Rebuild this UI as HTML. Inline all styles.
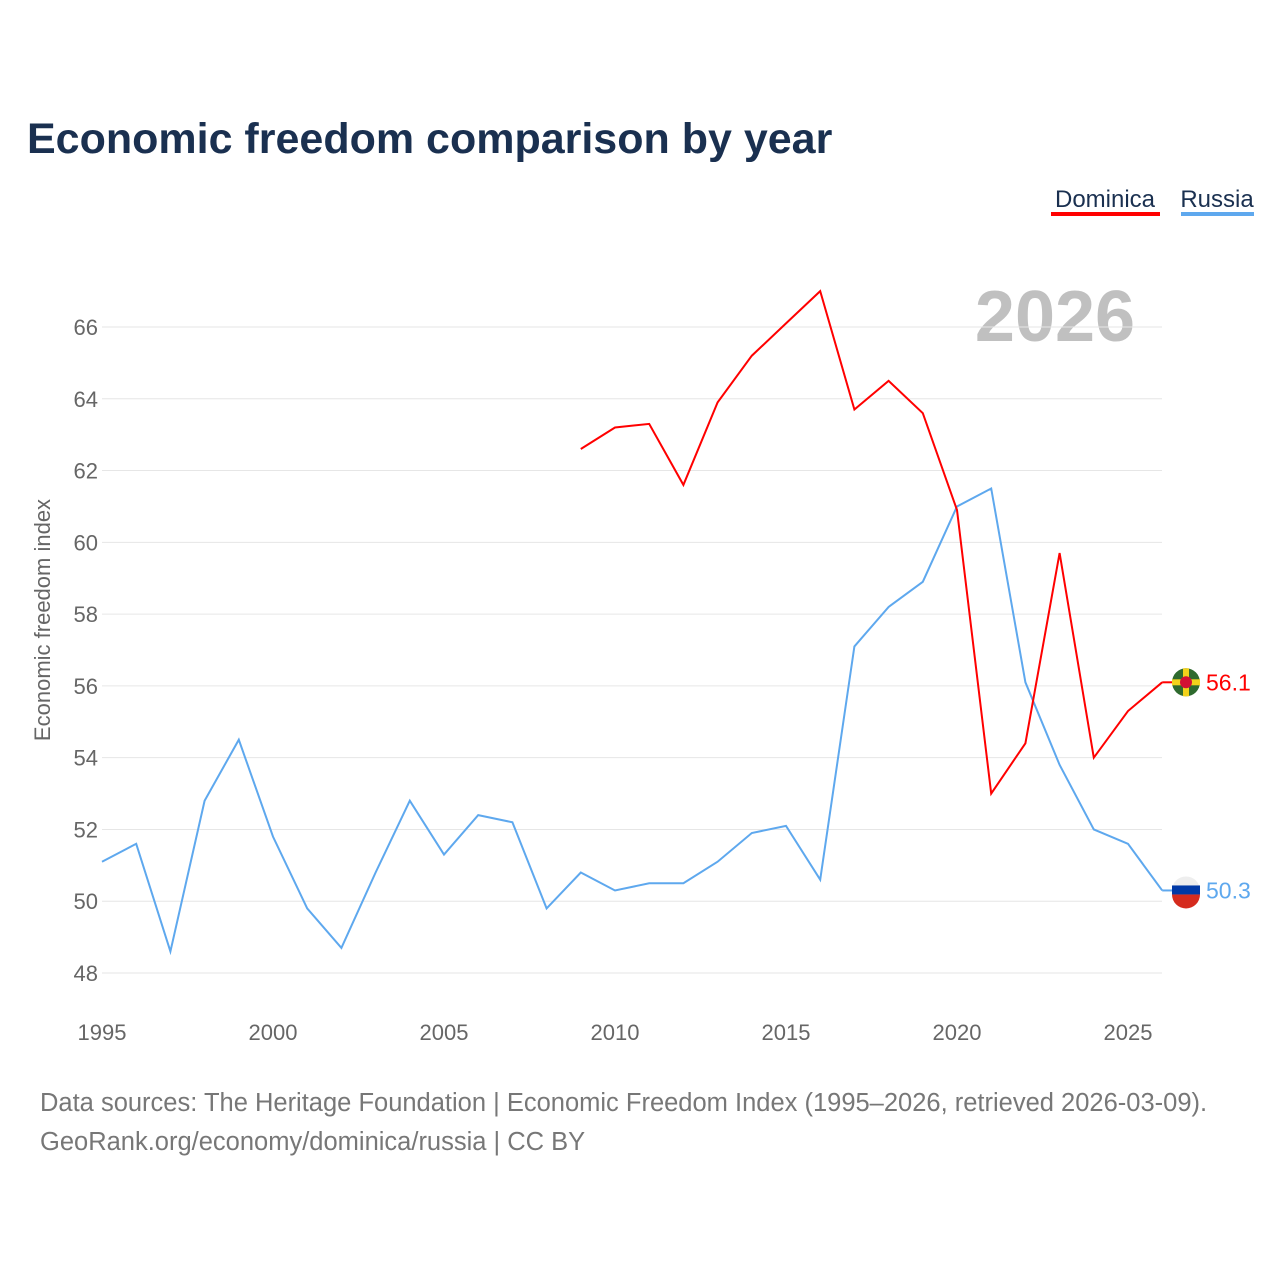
<!DOCTYPE html>
<html><head><meta charset="utf-8"><style>
body{margin:0;background:#fff;font-family:"Liberation Sans",sans-serif}
</style></head><body>
<svg width="1280" height="1280" viewBox="0 0 1280 1280" xmlns="http://www.w3.org/2000/svg">
<text x="27" y="153" font-size="43" font-weight="bold" fill="#1a3050">Economic freedom comparison by year</text>
<g><text x="1105" y="207" font-size="24" fill="#1a3050" text-anchor="middle">Dominica</text><rect x="1051" y="212" width="109" height="4" fill="#ff0000"/></g>
<g><text x="1217" y="207" font-size="24" fill="#1a3050" text-anchor="middle">Russia</text><rect x="1181" y="212" width="73" height="4" fill="#5ea8ee"/></g>
<text x="1055" y="341" font-size="72" font-weight="bold" fill="#c0c0c0" text-anchor="middle">2026</text>
<g id="grid"></g><g id="xt"></g>
<text transform="translate(50,620) rotate(-90)" font-size="22" fill="#666" text-anchor="middle">Economic freedom index</text>
<path id="rus" fill="none" stroke="#5ea8ee" stroke-width="2"/>
<path id="dom" fill="none" stroke="#ff0000" stroke-width="2"/>
<g id="ends"></g>
<text x="40" y="1111" font-size="25.5" fill="#777">Data sources: The Heritage Foundation | Economic Freedom Index (1995–2026, retrieved 2026-03-09).</text>
<text x="40" y="1150" font-size="25.5" fill="#777">GeoRank.org/economy/dominica/russia | CC BY</text>
</svg>
<script>
const yTicks=[48,50,52,54,56,58,60,62,64,66];
const xTicks=[1995,2000,2005,2010,2015,2020,2025];
const rusYears=[1995,1996,1997,1998,1999,2000,2001,2002,2003,2004,2005,2006,2007,2008,2009,2010,2011,2012,2013,2014,2015,2016,2017,2018,2019,2020,2021,2022,2023,2024,2025,2026];
const rusVals=[51.1,51.6,48.6,52.8,54.5,51.8,49.8,48.7,50.8,52.8,51.3,52.4,52.2,49.8,50.8,50.3,50.5,50.5,51.1,51.9,52.1,50.6,57.1,58.2,58.9,61.0,61.5,56.1,53.8,52.0,51.6,50.3];
const domYears=[2009,2010,2011,2012,2013,2014,2015,2016,2017,2018,2019,2020,2021,2022,2023,2024,2025,2026];
const domVals=[62.6,63.2,63.3,61.6,63.9,65.2,66.1,67.0,63.7,64.5,63.6,60.9,53.0,54.4,59.7,54.0,55.3,56.1];
const X=y=>102+(y-1995)*(1128-102)/30;
const Y=v=>973-(v-48)*(973-327)/18;
const NS='http://www.w3.org/2000/svg';
function mk(t,a,p){const e=document.createElementNS(NS,t);for(const k in a)e.setAttribute(k,a[k]);p.appendChild(e);return e;}
const g=document.getElementById('grid');
yTicks.forEach(v=>{
const l=mk('line',{x1:102,x2:1162,y1:Y(v),y2:Y(v),stroke:'#e6e6e6','stroke-width':1},g);


const t=mk('text',{x:98,y:Y(v)+8,'font-size':22,fill:'#666','text-anchor':'end'},g);t.textContent=v;


});
const xt=document.getElementById('xt');
xTicks.forEach(v=>{const t=mk('text',{x:X(v),y:1040,'font-size':22,fill:'#666','text-anchor':'middle'},xt);t.textContent=v;

});
const path=(ys,vs)=>ys.map((y,i)=>(i?'L':'M')+X(y)+','+Y(vs[i])).join('');
document.getElementById('rus').setAttribute('d',path(rusYears,rusVals));
document.getElementById('dom').setAttribute('d',path(domYears,domVals));
const ends=document.getElementById('ends');
function endLbl(ys,vs,c,name,flag){
const y=Y(vs[vs.length-1]),x=X(ys[ys.length-1]);
mk('line',{x1:x,x2:1176,y1:y,y2:y,stroke:c,'stroke-width':2},ends);
const fg=mk('g',{},ends);


flag(fg,1186,y);
const t=mk('text',{x:1206,y:y+8,'font-size':23,fill:c},ends);t.textContent=vs[vs.length-1].toFixed(1);


}
endLbl(domYears,domVals,'#ff0000','dominica',(p,cx,cy)=>{mk('circle',{cx,cy,r:14,fill:'#2e6a2e'},p);mk('rect',{x:cx-14,y:cy-3,width:28,height:6,fill:'#f2d21b'},p);mk('rect',{x:cx-3,y:cy-14,width:6,height:28,fill:'#f2d21b'},p);mk('circle',{cx,cy,r:6,fill:'#d21034'},p);});
endLbl(rusYears,rusVals,'#5ea8ee','russia',(p,cx,cy)=>{mk('circle',{cx,cy,r:14,fill:'#eee'},p);mk('rect',{x:cx-14,y:cy-5,width:28,height:9,fill:'#0039a6'},p);mk('path',{d:`M${cx-14},${cy+4} A14,14 0 0 0 ${cx+14},${cy+4} Z`,fill:'#d52b1e'},p);});
</script>
</body></html>
